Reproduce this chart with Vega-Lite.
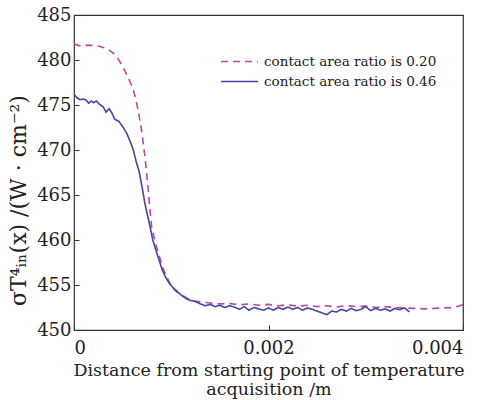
{
  "$schema": "https://vega.github.io/schema/vega-lite/v6.json",
  "width": 389,
  "height": 315,
  "autosize": {"type": "none"},
  "padding": {"left": 74, "top": 15, "right": 23, "bottom": 70},
  "background": "white",
  "config": {
    "font": "DejaVu Serif",
    "view": {"stroke": "#333333", "strokeWidth": 1.2},
    "axis": {"grid": false, "domainColor": "#333333", "tickColor": "#333333", "labelColor": "#222222", "titleColor": "#222222", "labelFont": "DejaVu Serif", "titleFont": "DejaVu Serif", "titleFontWeight": "normal"},
    "legend": {"labelFont": "DejaVu Serif"}
  },
  "datasets": {
    "curves": [
      {"x": 0, "y": 481.8, "s": "contact area ratio is 0.20"},
      {"x": 0.00005, "y": 481.6, "s": "contact area ratio is 0.20"},
      {"x": 0.0001, "y": 481.6, "s": "contact area ratio is 0.20"},
      {"x": 0.00015, "y": 481.65, "s": "contact area ratio is 0.20"},
      {"x": 0.0002, "y": 481.6, "s": "contact area ratio is 0.20"},
      {"x": 0.00025, "y": 481.55, "s": "contact area ratio is 0.20"},
      {"x": 0.0003, "y": 481.4, "s": "contact area ratio is 0.20"},
      {"x": 0.00035, "y": 481.2, "s": "contact area ratio is 0.20"},
      {"x": 0.0004, "y": 480.8, "s": "contact area ratio is 0.20"},
      {"x": 0.00045, "y": 480.2, "s": "contact area ratio is 0.20"},
      {"x": 0.0005, "y": 479.3, "s": "contact area ratio is 0.20"},
      {"x": 0.00055, "y": 478.2, "s": "contact area ratio is 0.20"},
      {"x": 0.0006, "y": 477.0, "s": "contact area ratio is 0.20"},
      {"x": 0.00063, "y": 475.9, "s": "contact area ratio is 0.20"},
      {"x": 0.00066, "y": 474.4, "s": "contact area ratio is 0.20"},
      {"x": 0.0007, "y": 471.8, "s": "contact area ratio is 0.20"},
      {"x": 0.00073, "y": 469.2, "s": "contact area ratio is 0.20"},
      {"x": 0.00076, "y": 466.0, "s": "contact area ratio is 0.20"},
      {"x": 0.00078, "y": 463.5, "s": "contact area ratio is 0.20"},
      {"x": 0.0008, "y": 461.3, "s": "contact area ratio is 0.20"},
      {"x": 0.00085, "y": 459.2, "s": "contact area ratio is 0.20"},
      {"x": 0.00092, "y": 456.7, "s": "contact area ratio is 0.20"},
      {"x": 0.001, "y": 454.8, "s": "contact area ratio is 0.20"},
      {"x": 0.00106, "y": 454.2, "s": "contact area ratio is 0.20"},
      {"x": 0.00112, "y": 453.8, "s": "contact area ratio is 0.20"},
      {"x": 0.0012, "y": 453.3, "s": "contact area ratio is 0.20"},
      {"x": 0.0013, "y": 453.1, "s": "contact area ratio is 0.20"},
      {"x": 0.0014, "y": 453.0, "s": "contact area ratio is 0.20"},
      {"x": 0.0015, "y": 452.9, "s": "contact area ratio is 0.20"},
      {"x": 0.0016, "y": 452.95, "s": "contact area ratio is 0.20"},
      {"x": 0.0017, "y": 452.8, "s": "contact area ratio is 0.20"},
      {"x": 0.0018, "y": 452.9, "s": "contact area ratio is 0.20"},
      {"x": 0.0019, "y": 452.75, "s": "contact area ratio is 0.20"},
      {"x": 0.002, "y": 452.85, "s": "contact area ratio is 0.20"},
      {"x": 0.0021, "y": 452.7, "s": "contact area ratio is 0.20"},
      {"x": 0.0022, "y": 452.8, "s": "contact area ratio is 0.20"},
      {"x": 0.0023, "y": 452.65, "s": "contact area ratio is 0.20"},
      {"x": 0.0024, "y": 452.75, "s": "contact area ratio is 0.20"},
      {"x": 0.0025, "y": 452.6, "s": "contact area ratio is 0.20"},
      {"x": 0.0026, "y": 452.7, "s": "contact area ratio is 0.20"},
      {"x": 0.0027, "y": 452.55, "s": "contact area ratio is 0.20"},
      {"x": 0.0028, "y": 452.7, "s": "contact area ratio is 0.20"},
      {"x": 0.0029, "y": 452.6, "s": "contact area ratio is 0.20"},
      {"x": 0.003, "y": 452.65, "s": "contact area ratio is 0.20"},
      {"x": 0.0031, "y": 452.5, "s": "contact area ratio is 0.20"},
      {"x": 0.0032, "y": 452.6, "s": "contact area ratio is 0.20"},
      {"x": 0.0033, "y": 452.5, "s": "contact area ratio is 0.20"},
      {"x": 0.0034, "y": 452.45, "s": "contact area ratio is 0.20"},
      {"x": 0.0035, "y": 452.4, "s": "contact area ratio is 0.20"},
      {"x": 0.0036, "y": 452.35, "s": "contact area ratio is 0.20"},
      {"x": 0.0037, "y": 452.4, "s": "contact area ratio is 0.20"},
      {"x": 0.0038, "y": 452.45, "s": "contact area ratio is 0.20"},
      {"x": 0.0039, "y": 452.5, "s": "contact area ratio is 0.20"},
      {"x": 0.004, "y": 452.8, "s": "contact area ratio is 0.20"},

      {"x": 0, "y": 476.2, "s": "contact area ratio is 0.46"},
      {"x": 0.00003, "y": 475.8, "s": "contact area ratio is 0.46"},
      {"x": 0.00006, "y": 475.6, "s": "contact area ratio is 0.46"},
      {"x": 0.0001, "y": 475.65, "s": "contact area ratio is 0.46"},
      {"x": 0.00013, "y": 475.5, "s": "contact area ratio is 0.46"},
      {"x": 0.00015, "y": 475.2, "s": "contact area ratio is 0.46"},
      {"x": 0.00018, "y": 475.45, "s": "contact area ratio is 0.46"},
      {"x": 0.0002, "y": 475.25, "s": "contact area ratio is 0.46"},
      {"x": 0.00023, "y": 475.45, "s": "contact area ratio is 0.46"},
      {"x": 0.00026, "y": 475.1, "s": "contact area ratio is 0.46"},
      {"x": 0.0003, "y": 474.8, "s": "contact area ratio is 0.46"},
      {"x": 0.00033, "y": 474.2, "s": "contact area ratio is 0.46"},
      {"x": 0.00036, "y": 474.6, "s": "contact area ratio is 0.46"},
      {"x": 0.00039, "y": 474.1, "s": "contact area ratio is 0.46"},
      {"x": 0.00042, "y": 473.4, "s": "contact area ratio is 0.46"},
      {"x": 0.00046, "y": 473.2, "s": "contact area ratio is 0.46"},
      {"x": 0.0005, "y": 472.6, "s": "contact area ratio is 0.46"},
      {"x": 0.00054, "y": 471.9, "s": "contact area ratio is 0.46"},
      {"x": 0.00058, "y": 470.9, "s": "contact area ratio is 0.46"},
      {"x": 0.00061, "y": 470.0, "s": "contact area ratio is 0.46"},
      {"x": 0.00064, "y": 468.7, "s": "contact area ratio is 0.46"},
      {"x": 0.00067, "y": 467.6, "s": "contact area ratio is 0.46"},
      {"x": 0.0007, "y": 465.9, "s": "contact area ratio is 0.46"},
      {"x": 0.00073, "y": 464.0, "s": "contact area ratio is 0.46"},
      {"x": 0.00075, "y": 463.0, "s": "contact area ratio is 0.46"},
      {"x": 0.00078, "y": 461.6, "s": "contact area ratio is 0.46"},
      {"x": 0.00081, "y": 460.0, "s": "contact area ratio is 0.46"},
      {"x": 0.00085, "y": 458.6, "s": "contact area ratio is 0.46"},
      {"x": 0.00088, "y": 457.6, "s": "contact area ratio is 0.46"},
      {"x": 0.00091, "y": 456.6, "s": "contact area ratio is 0.46"},
      {"x": 0.00094, "y": 455.9, "s": "contact area ratio is 0.46"},
      {"x": 0.00098, "y": 455.2, "s": "contact area ratio is 0.46"},
      {"x": 0.00102, "y": 454.7, "s": "contact area ratio is 0.46"},
      {"x": 0.00106, "y": 454.3, "s": "contact area ratio is 0.46"},
      {"x": 0.0011, "y": 453.9, "s": "contact area ratio is 0.46"},
      {"x": 0.00115, "y": 453.5, "s": "contact area ratio is 0.46"},
      {"x": 0.00119, "y": 453.3, "s": "contact area ratio is 0.46"},
      {"x": 0.00124, "y": 453.2, "s": "contact area ratio is 0.46"},
      {"x": 0.0013, "y": 452.9, "s": "contact area ratio is 0.46"},
      {"x": 0.00135, "y": 452.7, "s": "contact area ratio is 0.46"},
      {"x": 0.0014, "y": 452.85, "s": "contact area ratio is 0.46"},
      {"x": 0.00145, "y": 452.6, "s": "contact area ratio is 0.46"},
      {"x": 0.0015, "y": 452.75, "s": "contact area ratio is 0.46"},
      {"x": 0.00155, "y": 452.5, "s": "contact area ratio is 0.46"},
      {"x": 0.0016, "y": 452.7, "s": "contact area ratio is 0.46"},
      {"x": 0.00165, "y": 452.55, "s": "contact area ratio is 0.46"},
      {"x": 0.0017, "y": 452.3, "s": "contact area ratio is 0.46"},
      {"x": 0.00175, "y": 452.6, "s": "contact area ratio is 0.46"},
      {"x": 0.0018, "y": 452.2, "s": "contact area ratio is 0.46"},
      {"x": 0.00185, "y": 452.5, "s": "contact area ratio is 0.46"},
      {"x": 0.0019, "y": 452.35, "s": "contact area ratio is 0.46"},
      {"x": 0.00195, "y": 452.2, "s": "contact area ratio is 0.46"},
      {"x": 0.002, "y": 452.45, "s": "contact area ratio is 0.46"},
      {"x": 0.00205, "y": 452.2, "s": "contact area ratio is 0.46"},
      {"x": 0.0021, "y": 452.5, "s": "contact area ratio is 0.46"},
      {"x": 0.00215, "y": 452.3, "s": "contact area ratio is 0.46"},
      {"x": 0.0022, "y": 452.55, "s": "contact area ratio is 0.46"},
      {"x": 0.00225, "y": 452.3, "s": "contact area ratio is 0.46"},
      {"x": 0.0023, "y": 452.5, "s": "contact area ratio is 0.46"},
      {"x": 0.00235, "y": 452.2, "s": "contact area ratio is 0.46"},
      {"x": 0.0024, "y": 452.45, "s": "contact area ratio is 0.46"},
      {"x": 0.00245, "y": 452.3, "s": "contact area ratio is 0.46"},
      {"x": 0.0025, "y": 452.1, "s": "contact area ratio is 0.46"},
      {"x": 0.00255, "y": 451.9, "s": "contact area ratio is 0.46"},
      {"x": 0.0026, "y": 451.7, "s": "contact area ratio is 0.46"},
      {"x": 0.00265, "y": 452.1, "s": "contact area ratio is 0.46"},
      {"x": 0.0027, "y": 452.0, "s": "contact area ratio is 0.46"},
      {"x": 0.00275, "y": 452.3, "s": "contact area ratio is 0.46"},
      {"x": 0.0028, "y": 452.1, "s": "contact area ratio is 0.46"},
      {"x": 0.00285, "y": 452.4, "s": "contact area ratio is 0.46"},
      {"x": 0.0029, "y": 452.15, "s": "contact area ratio is 0.46"},
      {"x": 0.00295, "y": 452.3, "s": "contact area ratio is 0.46"},
      {"x": 0.003, "y": 452.6, "s": "contact area ratio is 0.46"},
      {"x": 0.00305, "y": 452.15, "s": "contact area ratio is 0.46"},
      {"x": 0.0031, "y": 452.4, "s": "contact area ratio is 0.46"},
      {"x": 0.00315, "y": 452.2, "s": "contact area ratio is 0.46"},
      {"x": 0.0032, "y": 452.35, "s": "contact area ratio is 0.46"},
      {"x": 0.00325, "y": 452.1, "s": "contact area ratio is 0.46"},
      {"x": 0.0033, "y": 452.4, "s": "contact area ratio is 0.46"},
      {"x": 0.00335, "y": 452.25, "s": "contact area ratio is 0.46"},
      {"x": 0.0034, "y": 452.45, "s": "contact area ratio is 0.46"},
      {"x": 0.00345, "y": 452.0, "s": "contact area ratio is 0.46"}
    ]
  },
  "data": {"name": "curves"},
  "mark": {"type": "line", "strokeWidth": 1.6, "clip": true},
  "encoding": {
    "x": {
      "field": "x", "type": "quantitative",
      "scale": {"domain": [0, 0.004], "nice": false},
      "axis": {
        "values": [0, 0.002, 0.004],
        "labelExpr": "datum.value == 0 ? '0' : format(datum.value, '.3f')",
        "tickSize": -5, "labelPadding": 14, "labelFontSize": 18, "labelFont": "DejaVu Serif",
        "domain": false,
        "title": ["Distance from starting point of temperature", "acquisition /m"],
        "titleFont": "DejaVu Serif",
        "titleFontSize": 17.5, "titlePadding": 4, "titleLineHeight": 19
      }
    },
    "y": {
      "field": "y", "type": "quantitative",
      "scale": {"domain": [450, 485], "nice": false, "zero": false},
      "axis": {
        "values": [450, 455, 460, 465, 470, 475, 480, 485],
        "tickSize": -5, "labelPadding": 8, "labelFontSize": 18, "labelFont": "DejaVu Serif",
        "domain": false,
        "title": "σT⁴ᵢₙ(x)  /(W · cm⁻²)",
        "titleFont": "DejaVu Serif",
        "titleFontSize": 22, "titlePadding": 6, "titleY": 185
      }
    },
    "color": {
      "field": "s", "type": "nominal",
      "scale": {"domain": ["contact area ratio is 0.20", "contact area ratio is 0.46"], "range": ["#b44aa5", "#4b43a3"]},
      "legend": {
        "title": null, "orient": "none", "legendX": 155, "legendY": 36,
        "symbolType": "M-2,0H2", "symbolSize": 342, "symbolStrokeWidth": 1.6, "symbolFillColor": "transparent",
        "labelFont": "DejaVu Serif", "labelLimit": 300,
        "labelFontSize": 13.5, "labelColor": "#222222", "rowPadding": 3, "labelOffset": 14
      }
    },
    "strokeDash": {
      "field": "s", "type": "nominal",
      "scale": {"domain": ["contact area ratio is 0.20", "contact area ratio is 0.46"], "range": [[7, 5], [1, 0]]},
      "legend": {
        "title": null, "orient": "none", "legendX": 155, "legendY": 36,
        "symbolType": "M-2,0H2", "symbolSize": 342, "symbolStrokeWidth": 1.6, "symbolFillColor": "transparent",
        "labelFont": "DejaVu Serif", "labelLimit": 300,
        "labelFontSize": 13.5, "labelColor": "#222222", "rowPadding": 3, "labelOffset": 14
      }
    }
  }
}
